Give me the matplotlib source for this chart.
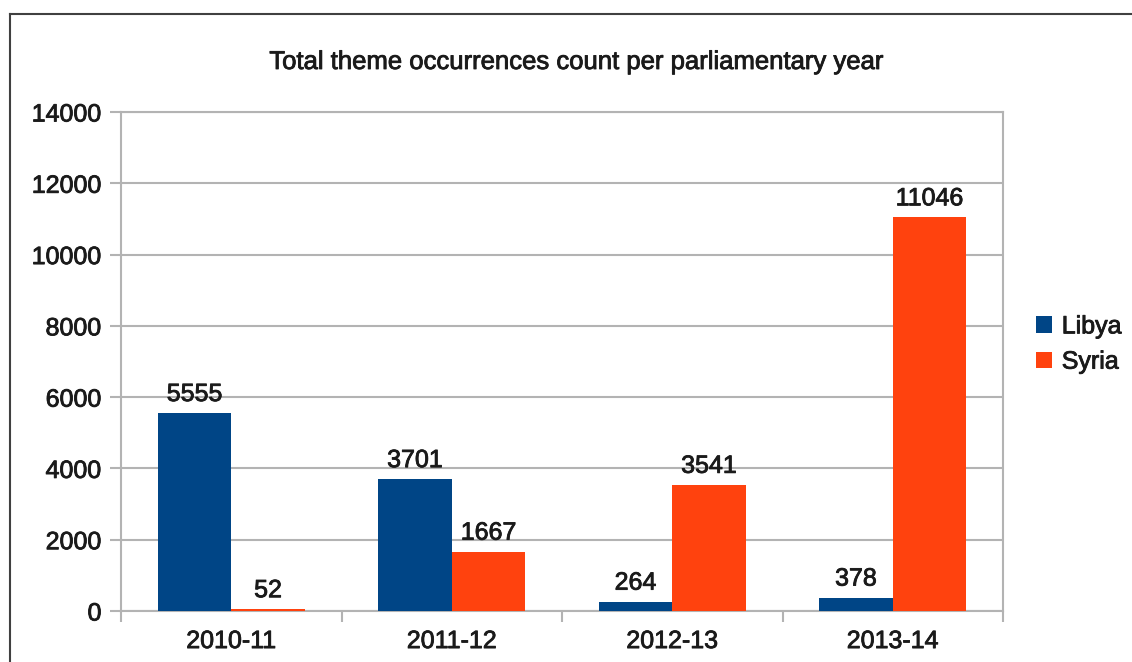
import matplotlib
matplotlib.use("Agg")
import matplotlib.pyplot as plt
import matplotlib.patheffects as pe
from matplotlib.lines import Line2D
import numpy as np

years = ["2010-11", "2011-12", "2012-13", "2013-14"]
libya = [5555, 3701, 264, 378]
syria = [52, 1667, 3541, 11046]
series_names = ["Libya", "Syria"]
y_ticks = [0, 2000, 4000, 6000, 8000, 10000, 12000, 14000]

plt.rcParams["font.family"] = ["Liberation Sans", "DejaVu Sans"]

W, H = 1132, 662
fig = plt.figure(figsize=(W / 100, H / 100), dpi=100)
fig.patch.set_facecolor("white")

ax = fig.add_axes([121 / W, 1 - 611 / H, (1003 - 121) / W, (611 - 112) / H])

grey = "#b3b3b3"
ink = "#1a1a1a"
libya_col = "#004586"
syria_col = "#ff420e"
heavy = [pe.withStroke(linewidth=0.6, foreground=ink)]

x = np.arange(len(years)) + 0.5
bw = 1 / 3
b1 = ax.bar(x - bw / 2, libya, bw, color=libya_col, label=series_names[0], zorder=3)
b2 = ax.bar(x + bw / 2, syria, bw, color=syria_col, label=series_names[1], zorder=3)
for bars, vals in ((b1, libya), (b2, syria)):
    for t in ax.bar_label(bars, labels=[str(v) for v in vals], padding=5,
                          fontsize=18, color=ink):
        t.set_path_effects(heavy)

ax.set_xlim(0, len(years))
ax.set_ylim(0, 14000)
ax.set_yticks(y_ticks)
ax.set_yticklabels([str(t) for t in y_ticks])

# category boundaries carry tick marks, centres carry labels
ax.set_xticks(np.arange(len(years) + 1))
ax.set_xticklabels([])
ax.set_xticks(x, minor=True)
ax.set_xticklabels(years, minor=True)
ax.tick_params(axis="x", which="major", length=8, width=1.5, color=grey, direction="out")
ax.tick_params(axis="x", which="minor", length=0, pad=13, labelsize=18, labelcolor=ink)
ax.tick_params(axis="y", length=8, width=1.5, color=grey, direction="out", pad=6,
               labelsize=18, labelcolor=ink)
for t in ax.get_xticklabels(minor=True) + ax.get_yticklabels():
    t.set_path_effects(heavy)

ax.yaxis.grid(True, color=grey, linewidth=1.5)
ax.set_axisbelow(True)
for s in ax.spines.values():
    s.set_color(grey)
    s.set_linewidth(1.5)

title = fig.text(577 / W, 1 - 62 / H, "Total theme occurrences count per parliamentary year",
                 ha="center", va="center", fontsize=18.5, color=ink)
title.set_path_effects(heavy)

leg = fig.legend(handles=[b1, b2], labels=series_names, loc="center left",
                 bbox_to_anchor=(1013 / W, 1 - 344 / H), frameon=False, fontsize=18,
                 handlelength=0.65, handleheight=0.65, handletextpad=0.4, labelspacing=0.45,
                 labelcolor=ink)
for t in leg.get_texts():
    t.set_path_effects(heavy)

# outer frame: left and top edges
fig.add_artist(Line2D([9.5 / W, 9.5 / W], [0, 1 - 14 / H], transform=fig.transFigure,
                      color="#404040", linewidth=1.5))
fig.add_artist(Line2D([9.5 / W, 1], [1 - 14 / H, 1 - 14 / H], transform=fig.transFigure,
                      color="#404040", linewidth=1.5))

fig.savefig("out.png", dpi=100)
